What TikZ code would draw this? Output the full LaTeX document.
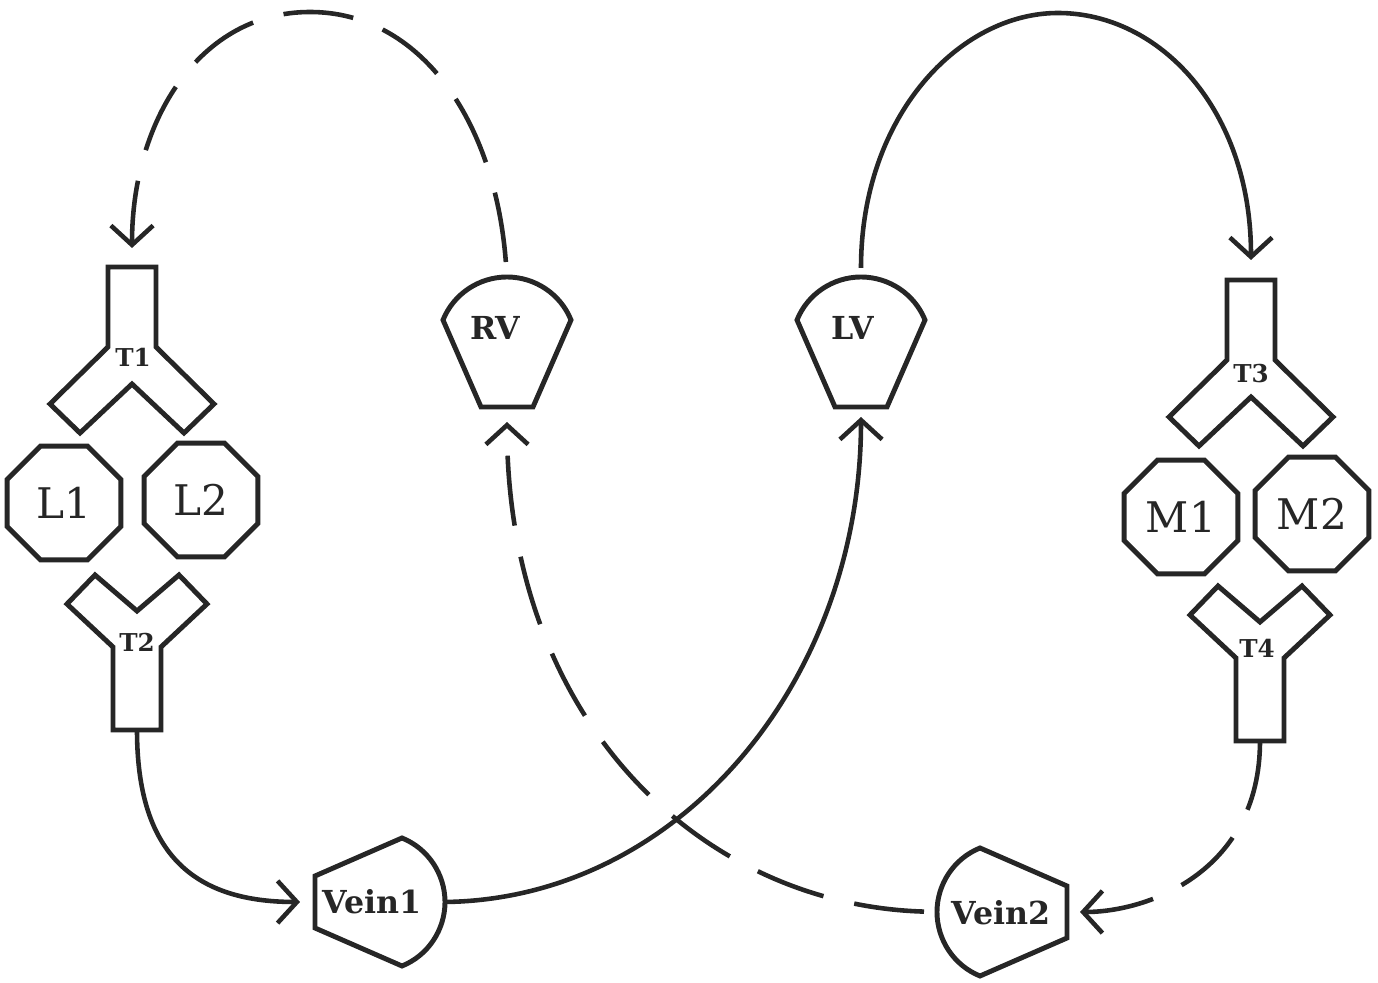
\documentclass[tikz,border=0pt]{standalone}
\usepackage{fontspec}
\setmainfont{DejaVu Serif}
\usetikzlibrary{shapes.geometric,arrows.meta}

\begin{document}
\begin{tikzpicture}[
       x=0.01cm, y=-0.01cm,
       wall/.style={
         draw=black!85,
         line width=1.4pt,
         line join=miter
       },
       lobe/.style={
         wall,
         regular polygon,
         regular polygon sides=8,
         minimum size=1.23cm,
         inner sep=0pt,
         text=black!85,
         font=\fontsize{12}{14}\selectfont
       },
       vlabel/.style={
         inner sep=0pt,
         text=black!85,
         font=\bfseries\fontsize{9}{10}\selectfont
       },
       tlabel/.style={
         inner sep=0pt,
         text=black!85,
         font=\bfseries\fontsize{7}{8}\selectfont
       },
       flow/.style={
         draw=black!85,
         line width=1.3pt,
         -{Straight Barb[length=5.5pt,width=12pt]}
       },
       dashflow/.style={
         flow,
         dash pattern=on 20pt off 9pt
       },
       yfork/.pic={
         \draw[wall] (-24,-80) -- (24,-80) -- (24,0) -- (82,57) -- (52,86)
           -- (0,37) -- (-52,86) -- (-82,57) -- (-24,0) -- cycle;
         \coordinate (-top) at (0,-80);
       },
       yjoin/.pic={
         \draw[wall] (-24,83) -- (24,83) -- (24,0) -- (70,-43) -- (42,-72)
           -- (0,-36) -- (-42,-72) -- (-70,-43) -- (-24,0) -- cycle;
         \coordinate (-bot) at (0,83);
       },
       cup/.pic={
         \draw[wall] (-26,65) -- (-64,-22)
           .. controls (-53.5,-48) and (-28,-65) .. (0,-65)
           .. controls (28,-65) and (53.5,-48) .. (64,-22)
           -- (26,65) -- cycle;
         \coordinate (-base) at (0,65);
         \coordinate (-top) at (0,-65);
       }
     ]

       \useasboundingbox (0,0) rectangle (1378,983);

       % left side
       \pic (t1body) at (132,347) {yfork};
       \node (t1) at (133,357) [tlabel]{T1};
       \node (l1) at (64,503) [lobe]{L1};
       \node (l2) at (201,500) [lobe]{L2};
       \pic (t2body) at (137,647) {yjoin};
       \node (t2) at (137,642) [tlabel]{T2};

       % right side
       \pic (t3body) at (1251,360) {yfork};
       \node (t3) at (1251,374) [tlabel]{T3};
       \node (m1) at (1181,517) [lobe]{M1};
       \node (m2) at (1312,514) [lobe]{M2};
       \pic (t4body) at (1260,658) {yjoin};
       \node (t4) at (1257,648) [tlabel]{T4};

       % ventricles and veins
       \pic (rvbody) at (507,342) {cup};
       \node (rv) at (495,328) [vlabel]{RV};
       \pic (lvbody) at (861,342) {cup};
       \node (lv) at (853,328) [vlabel]{LV};
       \pic[rotate=-90] (v1body) at (380,902) {cup};
       \node (vein1) at (372,902) [vlabel]{Vein1};
       \pic[rotate=90] (v2body) at (1002,912) {cup};
       \node (vein2) at (1001,913) [vlabel]{Vein2};

       \draw[dashflow, shorten <=0.15cm, shorten >=0.19cm] (rvbody-top)
         .. controls (495,120) and (420,12) .. (310,12)
         .. controls (200,12) and (132,120) .. (t1body-top);
       \draw[flow, shorten <=0.09cm, shorten >=0.2cm] (lvbody-top)
         .. controls (861,115) and (960,13) .. (1058,13)
         .. controls (1160,13) and (1251,110) .. (t3body-top);

       \draw[flow, shorten >=0.15cm] (t2body-bot)
         .. controls (137,850) and (190,902) .. (v1body-base);
       \draw[flow, shorten >=0.1cm] (v1body-top)
         .. controls (680,899) and (861,680) .. (lvbody-base);

       \draw[dashflow, shorten >=0.13cm] (t4body-bot)
         .. controls (1260,870) and (1150,912) .. (v2body-base);
       \draw[dashflow, shorten <=0.13cm, shorten >=0.15cm] (v2body-top)
         .. controls (700,905) and (507,720) .. (rvbody-base);

\end{tikzpicture}
\end{document}
